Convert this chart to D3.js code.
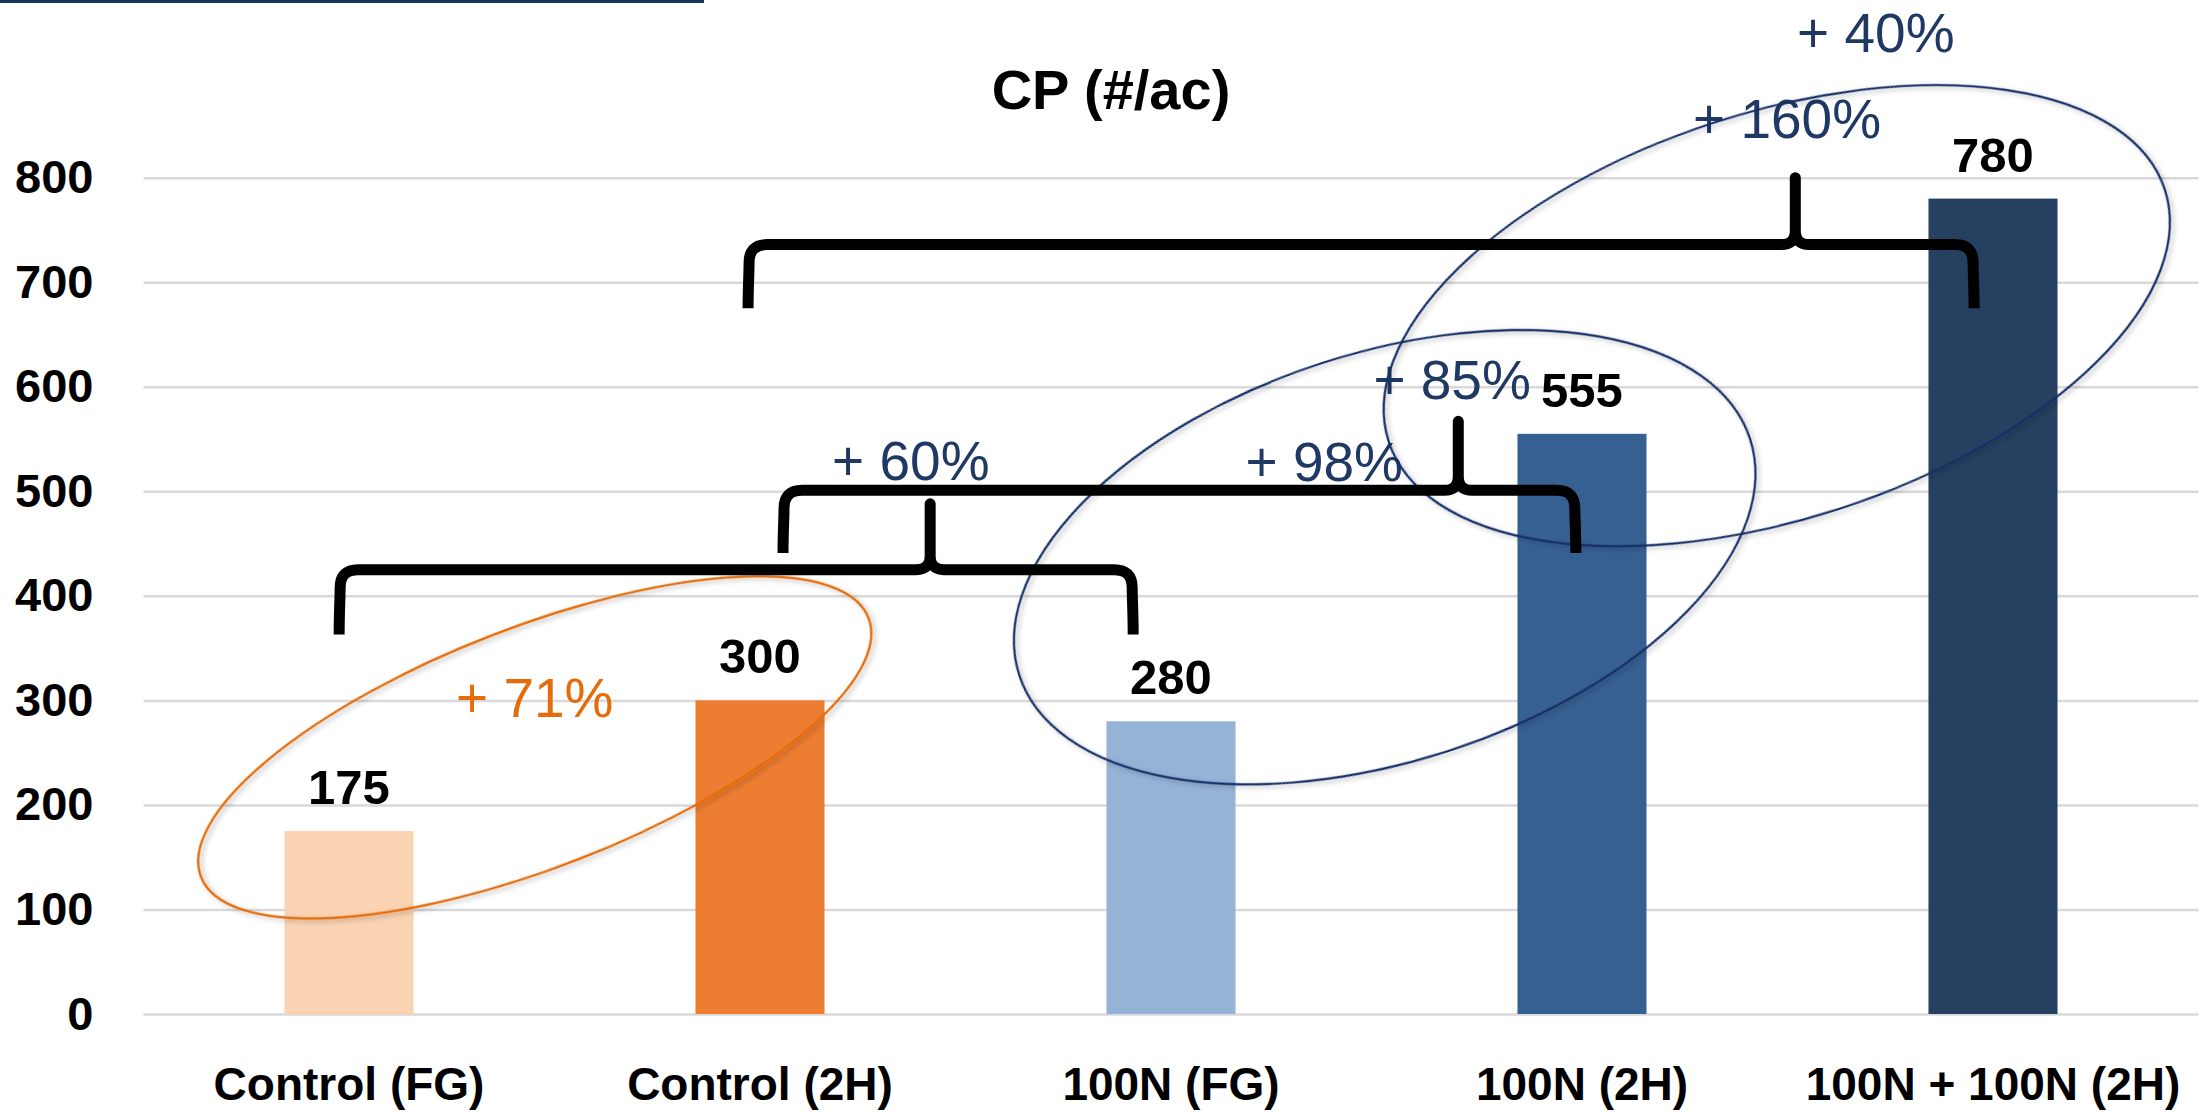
<!DOCTYPE html>
<html>
<head>
<meta charset="utf-8">
<script src="https://cdn.jsdelivr.net/npm/d3@7"></script>
<style>
  html, body { margin: 0; padding: 0; background: #ffffff; }
  svg { display: block; }
  text { font-family: "Liberation Sans", Arial, sans-serif; }
</style>
</head>
<body>
<svg id="chart" width="2212" height="1112"></svg>
<script>
// ---- data ----
const categories = ["Control (FG)", "Control (2H)", "100N (FG)", "100N (2H)", "100N + 100N (2H)"];
const cpValues   = [175, 300, 280, 555, 780];
const barColors  = ["#FAD3B2", "#ED7D31", "#95B3D7", "#376092", "#264061"];
const yTicks     = [0, 100, 200, 300, 400, 500, 600, 700, 800];
const chartTitle = "CP (#/ac)";

// percent-change callouts
const changeLabels = ["+ 71%", "+ 60%", "+ 98%", "+ 85%", "+ 160%", "+ 40%"];
const changeColors = ["#E46C0A", "#1F3864", "#1F3864", "#1F3864", "#1F3864", "#1F3864"];

// ---- annotation layout (category index along x, CP value along y) ----
const calloutAnchors = [[0.452, 284], [1.367, 511], [2.373, 510], [2.684, 588], [3.499, 838], [3.715, 920]];
// curly braces: start, end, cusp (category index); bar level, leg end, cusp tip (CP value)
const braces = [
  { from: -0.024, to: 1.908, cusp: 1.414, level: 425, legEnd: 363, tip: 488 },
  { from: 1.056,  to: 2.985, cusp: 2.699, level: 501, legEnd: 441, tip: 567 },
  { from: 0.971,  to: 3.954, cusp: 3.519, level: 736, legEnd: 675, tip: 800 }
];
// grouping ellipses: centre (category index, CP value), radii in px, tilt in degrees
const rings = [
  { at: [0.452, 255], rx: 358, ry: 120, tilt: -21.2, color: "#E46C0A", width: 2.4 },
  { at: [2.520, 437], rx: 384, ry: 204, tilt: -17.9, color: "#142F66", width: 2.2 },
  { at: [3.474, 668], rx: 408, ry: 203, tilt: -18.0, color: "#142F66", width: 2.2 }
];

// ---- layout ----
const svg = d3.select("#chart");
const plot = { left: 143.5, right: 2198.5, top: 177.7, bottom: 1014 };

const x = d3.scaleBand()
  .domain(categories)
  .range([plot.left, plot.right])
  .paddingInner(0.686)
  .paddingOuter(0.343);

const y = d3.scaleLinear().domain([0, 800]).range([plot.bottom, plot.top]);

// category index -> pixel centre
const xi = d3.scaleLinear()
  .domain([0, categories.length - 1])
  .range([x(categories[0]) + x.bandwidth() / 2, x(categories[categories.length - 1]) + x.bandwidth() / 2]);

// header rule at the very top
svg.append("rect").attr("x", 0).attr("y", 0).attr("width", 704).attr("height", 3).attr("fill", "#17375E");

// drop shadow for the ellipses
const defs = svg.append("defs");
defs.append("filter").attr("id", "soft").attr("x", "-10%").attr("y", "-10%").attr("width", "120%").attr("height", "130%")
  .append("feDropShadow").attr("dx", 2).attr("dy", 3).attr("stdDeviation", 2.5)
  .attr("flood-color", "#000").attr("flood-opacity", 0.28);

// gridlines
const grid = svg.append("g")
  .attr("transform", `translate(${plot.left},0)`)
  .call(d3.axisLeft(y).tickValues(yTicks).tickSize(-(plot.right - plot.left)).tickFormat(""));
grid.select(".domain").remove();
grid.selectAll(".tick line").attr("stroke", "#D9D9D9").attr("stroke-width", 2.5);

// y tick labels
const yAxis = svg.append("g")
  .attr("transform", `translate(${plot.left},0)`)
  .call(d3.axisLeft(y).tickValues(yTicks).tickSize(0).tickPadding(50));
yAxis.select(".domain").remove();
yAxis.selectAll("text")
  .attr("fill", "#000")
  .style("font-size", "47px").style("font-weight", "bold")
  .style("font-family", "'Liberation Sans', Arial, sans-serif");

// x category labels
const xAxis = svg.append("g")
  .attr("transform", `translate(0,${plot.bottom})`)
  .call(d3.axisBottom(x).tickSize(0).tickPadding(53));
xAxis.select(".domain").remove();
xAxis.selectAll("text")
  .attr("fill", "#000")
  .style("font-size", "46px").style("font-weight", "bold")
  .style("font-family", "'Liberation Sans', Arial, sans-serif");

// bars
svg.append("g").selectAll("rect")
  .data(cpValues)
  .join("rect")
  .attr("x", (d, i) => x(categories[i]))
  .attr("y", d => y(d))
  .attr("width", x.bandwidth())
  .attr("height", d => y(0) - y(d))
  .attr("fill", (d, i) => barColors[i]);

// value labels
svg.append("g").selectAll("text")
  .data(cpValues)
  .join("text")
  .attr("x", (d, i) => x(categories[i]) + x.bandwidth() / 2)
  .attr("y", d => y(d) - 27)
  .attr("text-anchor", "middle")
  .attr("fill", "#000")
  .style("font-size", "49px").style("font-weight", "bold")
  .text(d => d);

// chart title
svg.append("text")
  .attr("x", 1111).attr("y", 109)
  .attr("text-anchor", "middle")
  .attr("fill", "#000")
  .style("font-size", "56px").style("font-weight", "bold")
  .text(chartTitle);

// percent-change callouts
svg.append("g").selectAll("text")
  .data(changeLabels)
  .join("text")
  .attr("x", (d, i) => xi(calloutAnchors[i][0]))
  .attr("y", (d, i) => y(calloutAnchors[i][1]))
  .attr("text-anchor", "middle")
  .attr("fill", (d, i) => changeColors[i])
  .style("font-size", "55px")
  .text(d => d);

// grouping ellipses
svg.append("g").selectAll("ellipse")
  .data(rings)
  .join("ellipse")
  .attr("transform", d => `translate(${xi(d.at[0])},${y(d.at[1])}) rotate(${d.tilt})`)
  .attr("rx", d => d.rx)
  .attr("ry", d => d.ry)
  .attr("fill", "none")
  .attr("stroke", d => d.color)
  .attr("stroke-width", d => d.width)
  .attr("filter", "url(#soft)");

// curly braces
function bracePath(b) {
  const x1 = xi(b.from), x2 = xi(b.to), xc = xi(b.cusp);
  const yh = y(b.level), ye = y(b.legEnd), yt = y(b.tip);
  const r = 18, rc = 14;
  const p = d3.path();
  p.moveTo(x1, ye);
  p.bezierCurveTo(x1, ye - 20, x1 + 1, yh + r + 10, x1 + 1, yh + r);
  p.quadraticCurveTo(x1 + 1, yh, x1 + r + 1, yh);
  p.lineTo(xc - rc, yh);
  p.quadraticCurveTo(xc, yh, xc, yh - rc);
  p.lineTo(xc, yt);
  p.lineTo(xc, yh - rc);
  p.quadraticCurveTo(xc, yh, xc + rc, yh);
  p.lineTo(x2 - r - 1, yh);
  p.quadraticCurveTo(x2 - 1, yh, x2 - 1, yh + r);
  p.bezierCurveTo(x2 - 1, yh + r + 10, x2, ye - 20, x2, ye);
  return p.toString();
}

svg.append("g").selectAll("path")
  .data(braces)
  .join("path")
  .attr("d", bracePath)
  .attr("fill", "none")
  .attr("stroke", "#000")
  .attr("stroke-width", 11)
  .attr("stroke-linejoin", "round")
  .attr("stroke-linecap", "butt");
</script>
</body>
</html>
